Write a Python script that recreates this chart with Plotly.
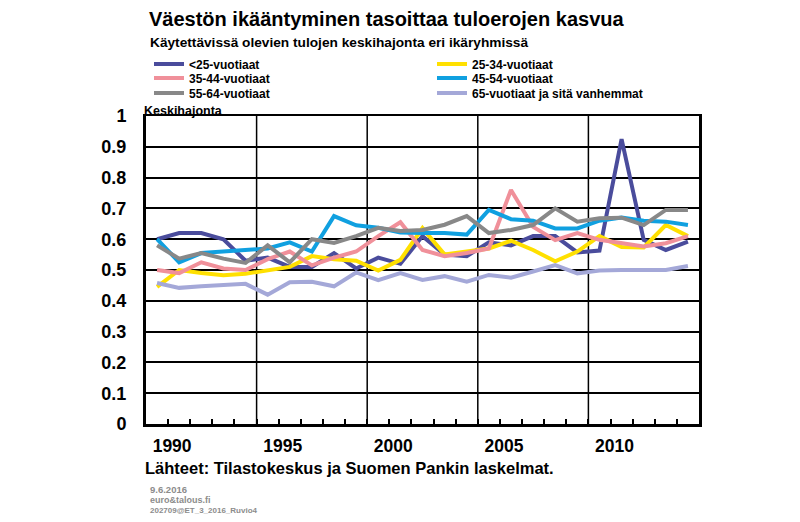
import plotly.graph_objects as go

years = list(range(1989, 2014))
series_names = ["<25-vuotiaat", "25-34-vuotiaat", "35-44-vuotiaat",
                "45-54-vuotiaat", "55-64-vuotiaat", "65-vuotiaat ja sitä vanhemmat"]
colors = ["#4a4c9c", "#ffe000", "#f0909a", "#10a0e0", "#888888", "#a4a8d8"]

under25 = [0.60, 0.62, 0.62, 0.60, 0.53, 0.54, 0.51, 0.51, 0.555, 0.505, 0.54, 0.52, 0.61,
           0.55, 0.545, 0.59, 0.58, 0.61, 0.61, 0.557, 0.563, 0.925, 0.598, 0.565, 0.592]
age25_34 = [0.445, 0.50, 0.49, 0.483, 0.488, 0.50, 0.51, 0.545, 0.535, 0.53, 0.498, 0.533, 0.636,
            0.55, 0.56, 0.57, 0.595, 0.565, 0.528, 0.56, 0.61, 0.575, 0.573, 0.646, 0.61]
age35_44 = [0.50, 0.49, 0.525, 0.505, 0.50, 0.535, 0.56, 0.515, 0.54, 0.56, 0.61, 0.655, 0.565,
            0.545, 0.555, 0.57, 0.76, 0.64, 0.597, 0.62, 0.598, 0.587, 0.576, 0.587, 0.61]
age45_54 = [0.60, 0.525, 0.555, 0.56, 0.565, 0.57, 0.59, 0.56, 0.675, 0.645, 0.637, 0.622, 0.62,
            0.62, 0.615, 0.695, 0.665, 0.66, 0.635, 0.635, 0.66, 0.67, 0.66, 0.657, 0.646]
age55_64 = [0.58, 0.537, 0.555, 0.537, 0.523, 0.58, 0.525, 0.60, 0.588, 0.61, 0.637, 0.627, 0.63,
            0.647, 0.675, 0.62, 0.63, 0.646, 0.70, 0.657, 0.668, 0.67, 0.646, 0.695, 0.695]
age65plus = [0.458, 0.442, 0.447, 0.452, 0.455, 0.42, 0.46, 0.462, 0.447, 0.492, 0.467, 0.49,
             0.468, 0.48, 0.462, 0.484, 0.475, 0.495, 0.516, 0.489, 0.498, 0.50, 0.50, 0.50, 0.513]

all_values = [under25, age25_34, age35_44, age45_54, age55_64, age65plus]

x_label_years = [1990, 1995, 2000, 2005, 2010]
grid_years = [1994, 1999, 2004, 2009]
y_ticks = [0, 0.1, 0.2, 0.3, 0.4, 0.5, 0.6, 0.7, 0.8, 0.9, 1]

FONT = "Liberation Sans, Arial, sans-serif"

# plot area in pixels
L, R, T, B = 146, 699, 116, 424
W, H = R - L, B - T


def px_x(p):
    return (p - L) / W


def px_y(p):
    return (B - p) / H


fig = go.Figure()
xpos = [y + 0.5 for y in years]  # annual values plotted mid-year
legend_names = ["legend", "legend2", "legend3", "legend4", "legend5", "legend6"]
legend_pos = [(149, 64), (432, 64), (149, 78), (432, 78), (149, 93), (432, 93)]
legend_layout = {}
for name, vals, col, lg, (lx, ly) in zip(series_names, all_values, colors, legend_names, legend_pos):
    fig.add_trace(go.Scatter(x=xpos, y=vals, mode="lines", name=name,
                             line=dict(color=col, width=4), legend=lg))
    legend_layout[lg] = dict(x=px_x(lx), y=px_y(ly), xanchor="left", yanchor="middle",
                             font=dict(size=12, weight="bold", family=FONT),
                             bgcolor="rgba(0,0,0,0)", itemwidth=30)

for gy in grid_years:
    fig.add_shape(type="line", xref="x", yref="y", x0=gy, x1=gy, y0=0, y1=1,
                  line=dict(color="black", width=1.5), layer="below")

fig.update_layout(
    width=800, height=522,
    margin=dict(l=L, r=800 - R, t=T, b=522 - B),
    paper_bgcolor="white", plot_bgcolor="white",
    font=dict(family=FONT, color="black"),
    xaxis=dict(range=[1989, 2014], tickvals=x_label_years, ticks="inside", ticklen=5,
               tickwidth=1.5, tickcolor="black",
               minor=dict(dtick=1, tick0=1989, ticks="inside", ticklen=5, tickwidth=1.5,
                          tickcolor="black", showgrid=False),
               showgrid=False, zeroline=False,
               showline=True, linecolor="black", linewidth=3, mirror=False,
               tickfont=dict(size=17.5, weight="bold"), ticklabelstandoff=4,
               ticklabelshift=4),
    xaxis2=dict(overlaying="x", range=[1989, 2014], side="top", showticklabels=False,
                showgrid=False, zeroline=False, showline=True, linecolor="black",
                linewidth=2, ticks=""),
    yaxis=dict(range=[0, 1], tickvals=y_ticks, showgrid=True, gridcolor="black",
               gridwidth=1.5, zeroline=False, showline=True, linecolor="black",
               linewidth=3, mirror=True, ticks="",
               tickfont=dict(size=18, weight="bold"), ticklabelstandoff=13),
    showlegend=True,
    **legend_layout,
)

ann = [
    dict(text="Väestön ikääntyminen tasoittaa tuloerojen kasvua", x=147, y=19, size=20, color="black"),
    dict(text="Käytettävissä olevien tulojen keskihajonta eri ikäryhmissä", x=148, y=43, size=13.7, color="black"),
    dict(text="Keskihajonta", x=142, y=111, size=12.5, color="black"),
    dict(text="Lähteet: Tilastokeskus ja Suomen Pankin laskelmat.", x=143, y=468, size=16.5, color="black"),
    dict(text="9.6.2016", x=148, y=490, size=9.5, color="#8c8c8c"),
    dict(text="euro&talous.fi", x=148, y=500, size=9, color="#8c8c8c"),
    dict(text="202709@ET_3_2016_Ruvio4", x=148, y=510, size=8, color="#8c8c8c"),
]
for a in ann:
    fig.add_annotation(text=a["text"], xref="paper", yref="paper",
                       x=px_x(a["x"]), y=px_y(a["y"]),
                       xanchor="left", yanchor="middle", showarrow=False,
                       font=dict(size=a["size"], color=a["color"], weight="bold", family=FONT))

# invisible trace to activate the top border axis
fig.add_trace(go.Scatter(x=[1989], y=[0], xaxis="x2", mode="markers",
                         marker=dict(opacity=0), showlegend=False, hoverinfo="skip"))

fig.write_html("out.html", config={"displayModeBar": False},
               post_script="document.body.style.margin='0';")
